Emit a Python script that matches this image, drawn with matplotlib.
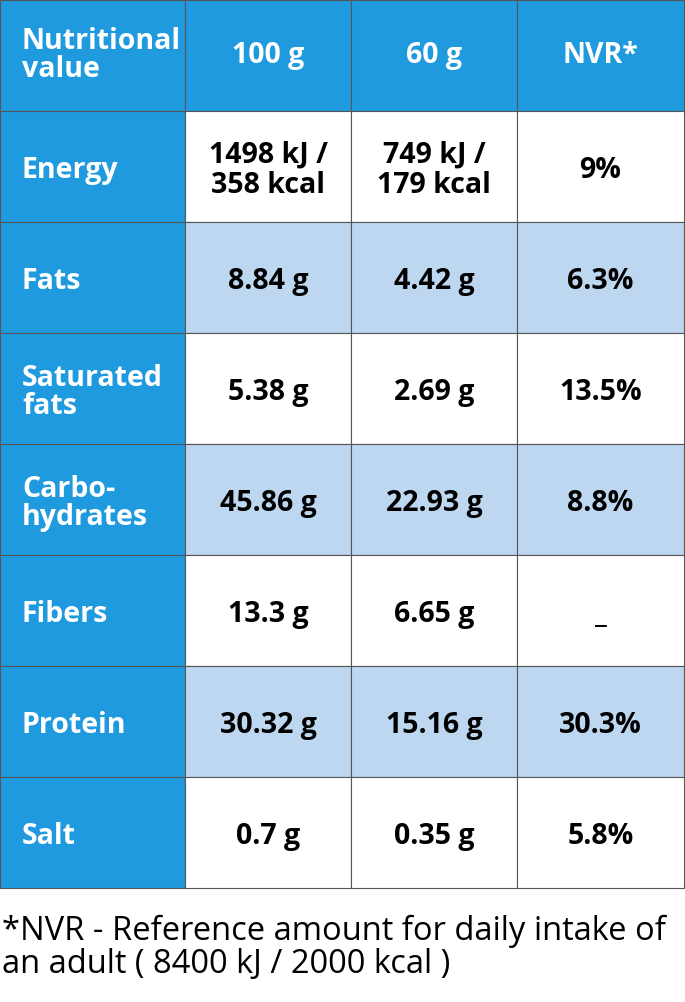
import matplotlib
matplotlib.use("Agg")
import matplotlib.pyplot as plt
from matplotlib.patches import Rectangle

headers = ["Nutritional\nvalue", "100 g", "60 g", "NVR*"]
nutrients = ["Energy", "Fats", "Saturated\nfats", "Carbo-\nhydrates", "Fibers", "Protein", "Salt"]
per100 = ["1498 kJ /\n358 kcal", "8.84 g", "5.38 g", "45.86 g", "13.3 g", "30.32 g", "0.7 g"]
per60 = ["749 kJ /\n179 kcal", "4.42 g", "2.69 g", "22.93 g", "6.65 g", "15.16 g", "0.35 g"]
nvr = ["9%", "6.3%", "13.5%", "8.8%", "_", "30.3%", "5.8%"]
footnote = "*NVR - Reference amount for daily intake of\nan adult ( 8400 kJ / 2000 kcal )"

BLUE = "#1f9ade"
LIGHT = "#bdd7f0"
LINE = "#555555"
FONT = "Open Sans"
FS = 20.5

fig = plt.figure(figsize=(6.85, 10.02), dpi=100)
ax = fig.add_axes([0, 0, 1, 1])
ax.set_xlim(0, 685)
ax.set_ylim(1002, 0)
ax.axis("off")

cols = [0, 185, 351, 517, 684]
rowh = 111
top = 0
dy = 4

def cell(x0, x1, y0, y1, color):
    ax.add_patch(Rectangle((x0, y0), x1 - x0, y1 - y0, facecolor=color,
                           edgecolor=LINE, linewidth=0.8))

for i, h in enumerate(headers):
    cell(cols[i], cols[i + 1], top, top + rowh, BLUE)
    if i == 0:
        ax.text(22, top + rowh / 2, h, color="white", fontsize=FS, fontweight="bold",
                family=FONT, ha="left", va="center", linespacing=0.95)
    else:
        ax.text((cols[i] + cols[i + 1]) / 2, top + rowh / 2, h, color="white", fontsize=FS,
                fontweight="bold", family=FONT, ha="center", va="center")

for r, name in enumerate(nutrients):
    y0 = top + rowh * (r + 1)
    y1 = y0 + rowh
    bg = "white" if r % 2 == 0 else LIGHT
    cell(cols[0], cols[1], y0, y1, BLUE)
    ax.text(22, (y0 + y1) / 2 + dy, name, color="white", fontsize=FS, fontweight="bold",
            family=FONT, ha="left", va="center", linespacing=0.95)
    for c, vals in enumerate([per100, per60, nvr]):
        cell(cols[c + 1], cols[c + 2], y0, y1, bg)
        ax.text((cols[c + 1] + cols[c + 2]) / 2, (y0 + y1) / 2 + dy, vals[r], color="black",
                fontsize=FS, fontweight="bold", family=FONT, ha="center", va="center",
                linespacing=1.05)

ax.text(2, 948, footnote, color="black", fontsize=23.5, family=FONT, ha="left",
        va="center", linespacing=1.0)

fig.savefig("out.png", dpi=100)
